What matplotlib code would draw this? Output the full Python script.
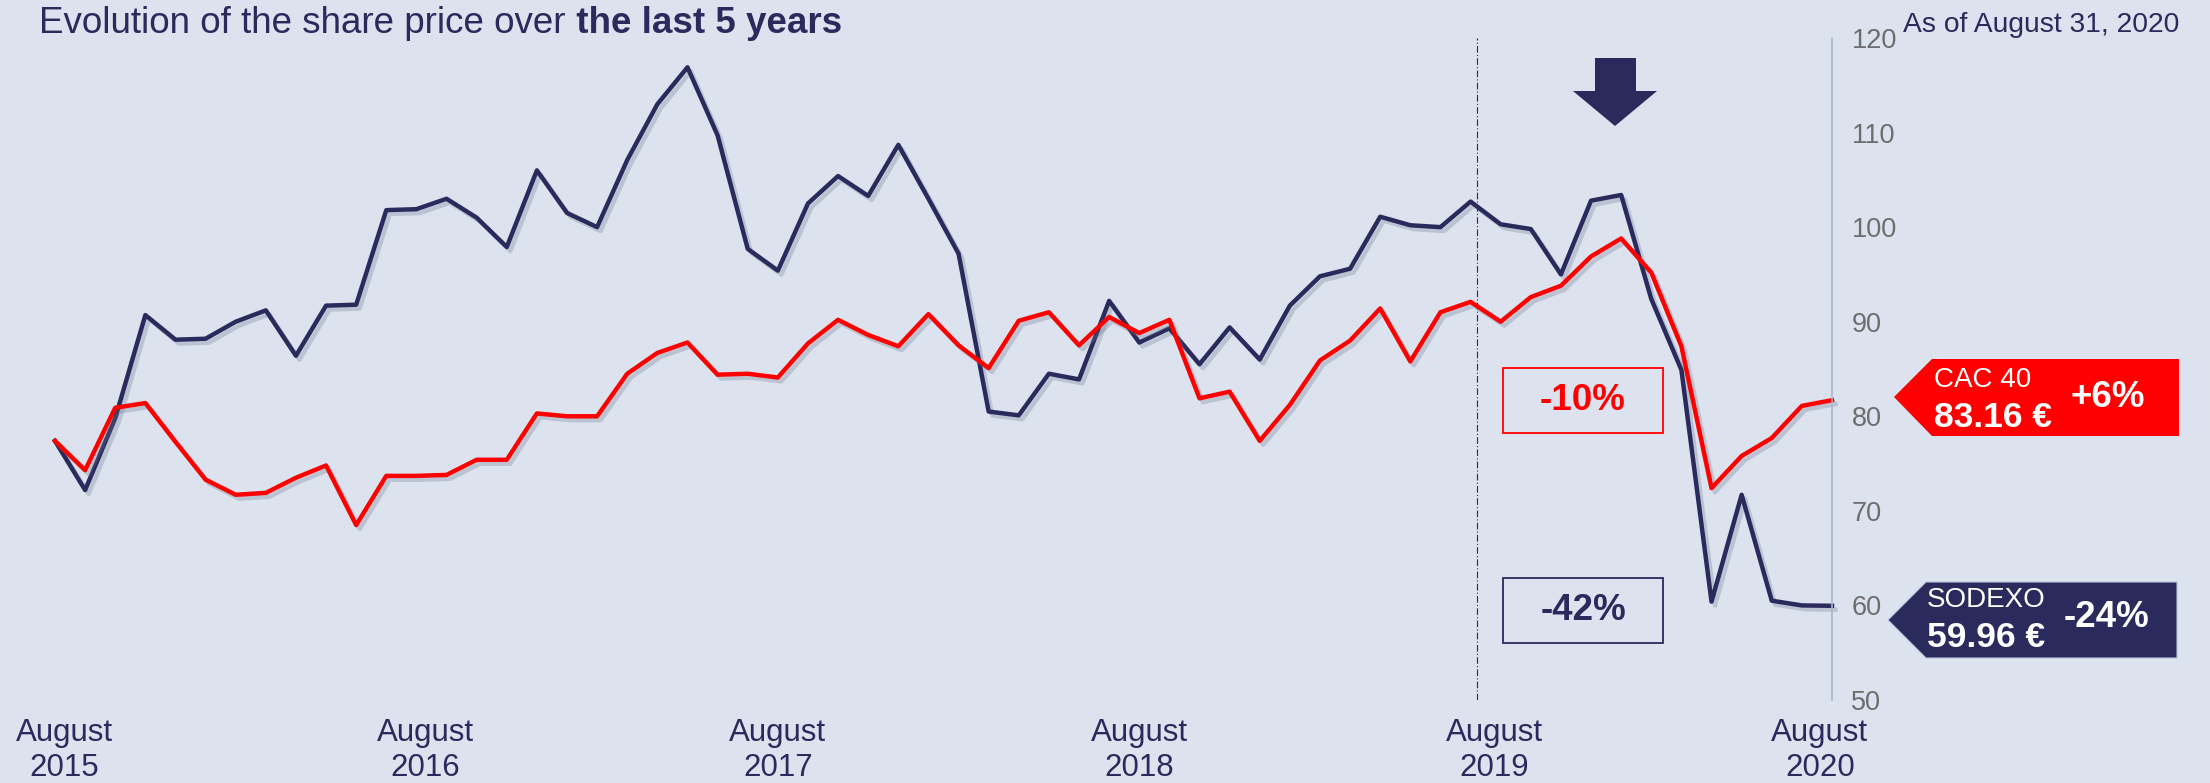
import matplotlib.pyplot as plt
import matplotlib.patheffects as pe
from matplotlib.patches import Polygon, Rectangle

plt.rcParams['font.family'] = ['Liberation Sans', 'DejaVu Sans']

# Monthly closes, August 2015 -> August 2020 (CAC 40 rebased on Sodexo)
sodexo = [77.4, 72.2, 79.8, 90.7, 88.1, 88.2, 90.0, 91.2, 86.4, 91.7,
          91.8, 101.8, 101.9, 103.0, 101.0, 97.9, 106.0, 101.5, 100.0, 107.1,
          113.0, 116.9, 109.7, 97.7, 95.4, 102.5, 105.4, 103.3, 108.7, 103.0,
          97.2, 80.5, 80.1, 84.5, 83.9, 92.2, 87.8, 89.3, 85.5, 89.4,
          86.0, 91.7, 94.8, 95.6, 101.1, 100.2, 100.0, 102.7, 100.3, 99.8,
          95.0, 102.8, 103.4, 92.4, 84.9, 60.4, 71.7, 60.5, 60.0, 59.96]
cac40 = [77.4, 74.3, 80.9, 81.4, 77.3, 73.3, 71.7, 71.9, 73.5, 74.8,
         68.5, 73.7, 73.7, 73.8, 75.4, 75.4, 80.3, 80.0, 80.0, 84.5,
         86.7, 87.8, 84.4, 84.5, 84.1, 87.7, 90.2, 88.6, 87.4, 90.8,
         87.5, 85.1, 90.1, 91.0, 87.5, 90.5, 88.8, 90.2, 81.9, 82.6,
         77.4, 81.2, 85.9, 88.0, 91.4, 85.8, 91.0, 92.1, 90.0, 92.6,
         93.8, 96.9, 98.8, 95.2, 87.4, 72.4, 75.8, 77.7, 81.1, 81.7]
months = list(range(len(sodexo)))

tick_pos = [0.3, 12.3, 24, 36, 47.8, 58.6]
tick_labels = ['August\n2015', 'August\n2016', 'August\n2017',
               'August\n2018', 'August\n2019', 'August\n2020']
y_ticks = [50, 60, 70, 80, 90, 100, 110, 120]
covid_start = 47.2

navy = '#2A2A5C'
red = '#FF0000'
bg = '#DCE2EE'

W, H = 2210, 783


def px(x, y):
    # pixel (from top-left) -> figure fraction
    return (x / W, 1 - y / H)


fig = plt.figure(figsize=(W / 100, H / 100), dpi=100, facecolor=bg)
ax = fig.add_axes([55 / W, 1 - 700 / H, 1777 / W, 662 / H])
ax.set_facecolor(bg)
ax.set_xlim(0, len(sodexo) - 1)
ax.set_ylim(50, 120)

shadow = [pe.SimpleLineShadow(offset=(2.5, -2.8), shadow_color='#6F7890', alpha=0.3),
          pe.Normal()]
ax.plot(months, sodexo, color=navy, lw=3.2, path_effects=shadow, clip_on=False)
ax.plot(months, cac40, color=red, lw=3.2, path_effects=shadow, clip_on=False)

ax.axvline(covid_start, color=navy, lw=0.8, ls=(0, (6, 2, 1, 2)))

for s in ['top', 'left', 'bottom']:
    ax.spines[s].set_visible(False)
ax.spines['right'].set_color('#A7B6CE')
ax.spines['right'].set_linewidth(1.2)

ax.yaxis.tick_right()
ax.set_yticks(y_ticks)
ax.tick_params(axis='y', length=0, pad=14, labelsize=19.5, labelcolor='#6D6D6D')
ax.set_xticks(tick_pos, tick_labels)
ax.tick_params(axis='x', length=0, pad=13, labelsize=22.5, labelcolor=navy)

# titre
t1 = fig.text(*px(39, 33), 'Evolution of the share price over', fontsize=26.5,
              color=navy, va='baseline')
ax.annotate(' the last 5 years', xy=(1, 0), xycoords=t1, va='bottom',
            fontsize=26.5, color=navy, fontweight='bold', annotation_clip=False)
fig.text(*px(1903, 32), 'As of August 31, 2020', fontsize=20.3, color=navy,
         va='baseline')

# fleche
arrow = [(1595, 58), (1636, 58), (1636, 91), (1657, 91), (1615, 126),
         (1573, 91), (1595, 91)]
fig.patches.append(Polygon([px(*p) for p in arrow], closed=True, facecolor=navy,
                           edgecolor='none', transform=fig.transFigure))

# encadres de variation
for top, col, txt in [(368, red, '-10%'), (578, navy, '-42%')]:
    x0, y0 = px(1503, top + 65)
    fig.patches.append(Rectangle((x0, y0), 160 / W, 65 / H, facecolor='none',
                                 edgecolor=col, lw=1.3, transform=fig.transFigure))
    fig.text(*px(1583, top + 33), txt, fontsize=26.5, fontweight='bold', color=col,
             ha='center', va='center')

# etiquettes de fin
tags = [
    (red, [(1894, 397), (1932, 359), (2179, 359), (2179, 436), (1932, 436)],
     1934, 387, 'CAC 40', '83.16 €', 2071, '+6%'),
    (navy, [(1888, 620), (1926, 582), (2177, 582), (2177, 658), (1926, 658)],
     1927, 607, 'SODEXO', '59.96 €', 2064, '-24%'),
]
for col, poly, tx, ty, name, price, vx, var in tags:
    fig.patches.append(Polygon([px(*p) for p in poly], closed=True, facecolor=col,
                               edgecolor='#B8C2DA' if col == navy else 'none',
                               lw=0.8, transform=fig.transFigure))
    fig.text(*px(tx, ty), name, fontsize=20, color='white', va='baseline')
    fig.text(*px(tx, ty + 40), price, fontsize=25.5, color='white',
             fontweight='bold', va='baseline')
    fig.text(*px(vx, ty + 20), var, fontsize=26.5, color='white',
             fontweight='bold', va='baseline')

fig.savefig('out.png', dpi=100, facecolor=bg)
